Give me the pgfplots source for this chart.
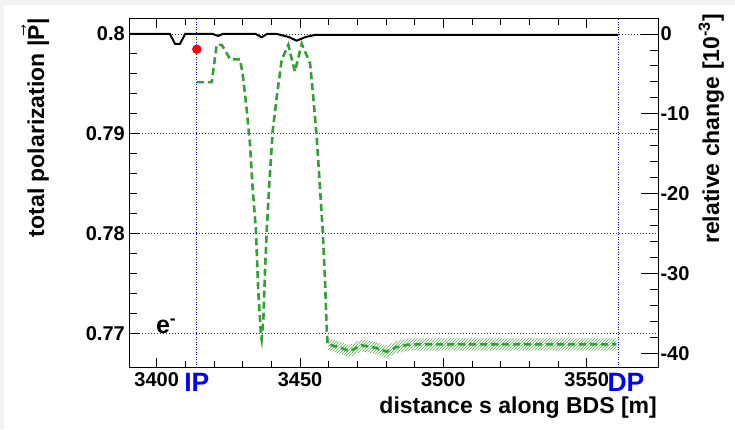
\documentclass[border=0pt]{standalone}
\usepackage{pgfplots}
\pgfplotsset{compat=1.18}
\usepackage{fontspec}
\setmainfont{Liberation Sans}
\usetikzlibrary{patterns}
\definecolor{rgreen}{RGB}{50,160,50}
\definecolor{bggray}{RGB}{242,242,242}
\begin{document}
\begin{tikzpicture}[x=1pt,y=1pt]
\fill[bggray] (0,0) rectangle (735,429);
\fill[white] (3.7,0) rectangle (735,424);
\useasboundingbox (0,0) rectangle (735,429);
\begin{axis}[at={(129.5pt,61.3pt)}, anchor=south west, scale only axis,
  width=528.8pt, height=349.2pt,
  xmin=3390.5, xmax=3575, ymin=0.76656, ymax=0.80155,
  clip=false,
  axis line style={line width=1pt},
  tick align=inside, major tick length=10pt, minor tick length=7pt,
  tick style={line width=0.9pt, black},
  xtick={3400,3450,3500,3550}, xticklabels={3400,3450,3500,3550},
  minor x tick num=4,
  ytick={0.77,0.78,0.79,0.8}, yticklabels={0.77,0.78,0.79,0.8},
  minor y tick num=4,
  ytick pos=left,
  ymajorgrids, major grid style={black!80, line width=0.8pt, dash pattern=on 1pt off 2pt},
  ticklabel style={font=\fontsize{20}{24}\selectfont\bfseries, inner sep=0pt},
  xticklabel style={anchor=north, yshift=-5pt},
  yticklabel style={anchor=east, xshift=-4.5pt},
]
\addplot[blue, line width=1pt, dash pattern=on 1pt off 1.5pt] coordinates {(3414,0.76656) (3414,0.80155)};
\addplot[blue, line width=1pt, dash pattern=on 1pt off 1.5pt] coordinates {(3561,0.76656) (3561,0.80155)};
\addplot[draw=none, pattern=north east lines, pattern color=rgreen!85] coordinates {
(3459.9,0.7695) (3463.9,0.76917) (3467.4,0.76883) (3471.5,0.7694) (3476.1,0.76917) (3480.2,0.76877) (3483.7,0.76923) (3488.4,0.7695) (3560.4,0.7695)
(3560.4,0.7683) (3488.4,0.7683) (3483.7,0.76803) (3480.2,0.76757) (3476.1,0.76797) (3471.5,0.7682) (3467.4,0.76763) (3463.9,0.76797) (3459.9,0.7683)
} -- cycle;
\addplot[rgreen, line width=2.6pt, dash pattern=on 7pt off 4pt] coordinates {
(3414,0.79517) (3419.2,0.79517) (3420.9,0.7989) (3422.7,0.7989) (3425.6,0.79747) (3429.1,0.79747)
(3430.1,0.79573) (3431.4,0.7924) (3432.5,0.7891) (3433.5,0.7844) (3434.6,0.7804) (3435.4,0.7744)
(3436.4,0.76973) (3436.6,0.7694) (3437.2,0.7714) (3437.8,0.7764) (3438.4,0.7804) (3439.3,0.7851)
(3440.5,0.7904) (3441.9,0.79373) (3443.6,0.7974) (3445.9,0.7989) (3448.2,0.79623) (3450.6,0.7990)
(3453.5,0.79707) (3454.6,0.79373) (3455.8,0.78973) (3457.0,0.7844) (3457.9,0.7804) (3458.7,0.7754)
(3459.3,0.7704) (3459.6,0.76907) (3459.9,0.7689) (3463.9,0.76857) (3467.4,0.76823) (3471.5,0.7688)
(3476.1,0.76857) (3480.2,0.76817) (3483.7,0.76863) (3488.4,0.7689) (3560.4,0.7689)
};
\addplot[black, line width=2pt] coordinates {
(3390.5,0.8000) (3404.6,0.8000) (3406.4,0.7990) (3408.1,0.7990) (3409.9,0.8000) (3419.5,0.8000)
(3421.4,0.7998) (3423,0.8000) (3434.5,0.8000) (3436.6,0.79967) (3438.5,0.8000) (3441.9,0.8000)
(3446,0.7997) (3448.8,0.79933) (3452,0.7997) (3455.2,0.7999) (3561,0.7999)
};
\addplot[only marks, mark=*, mark size=4.5pt, red] coordinates {(3414,0.79847)};
\node[anchor=base west, inner sep=0pt, font=\fontsize{25}{30}\selectfont\bfseries] at (axis cs:3399.7,0.77003) {e\textsuperscript{-}};
\node[anchor=north, inner sep=0pt, text=blue, font=\fontsize{26.5}{30}\selectfont\bfseries, yshift=-5pt] at (axis cs:3414,0.76656) {IP};
\node[anchor=north, inner sep=0pt, text=blue, font=\fontsize{26.5}{30}\selectfont\bfseries, yshift=-5pt] at (axis cs:3563.7,0.76656) {DP};
\end{axis}
\begin{axis}[at={(129.5pt,61.3pt)}, anchor=south west, scale only axis,
  width=528.8pt, height=349.2pt,
  xmin=3390.5, xmax=3575, ymin=-41.8, ymax=1.94,
  axis x line=none, axis y line*=right,
  axis line style={line width=1pt},
  tick align=inside, major tick length=17pt, minor tick length=8pt,
  tick style={line width=0.9pt, black},
  ytick={-40,-30,-20,-10,0}, yticklabels={-40,-30,-20,-10,0},
  minor y tick num=4,
  ticklabel style={font=\fontsize{20}{24}\selectfont\bfseries, inner sep=0pt},
  yticklabel style={anchor=west, xshift=2pt},
]
\addplot[draw=none] coordinates {(3400,0)};
\end{axis}
\node[rotate=90, anchor=base east, inner sep=0pt, font=\fontsize{23}{27}\selectfont\bfseries] at (44,410.7) {total polarization |$\vec{\mbox{\bfseries P}}$|};
\node[rotate=90, anchor=base east, inner sep=0pt, font=\fontsize{23}{27}\selectfont\bfseries] at (719,415) {relative change [10\textsuperscript{-3}]};
\node[anchor=base east, inner sep=0pt, font=\fontsize{23}{27}\selectfont\bfseries] at (657,15.5) {distance s along BDS [m]};
\end{tikzpicture}
\end{document}
